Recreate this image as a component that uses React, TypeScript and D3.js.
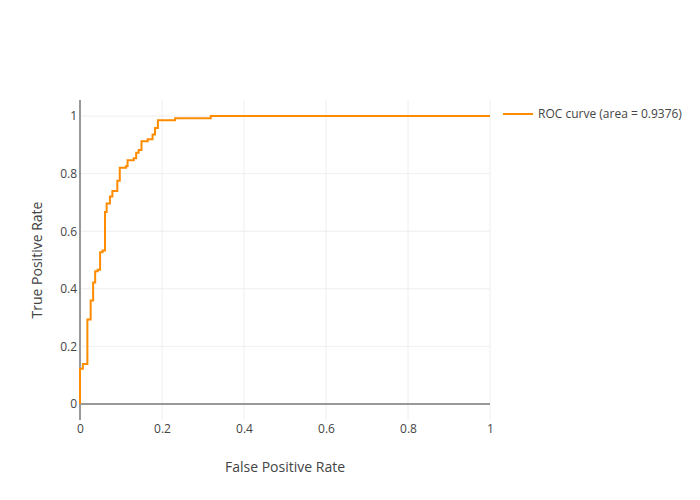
import React, { useEffect, useRef } from 'react';
import * as d3 from 'd3';

const width = 700;
const height = 500;
const margin = { top: 100, right: 210, bottom: 80, left: 80 };

// ROC corners: fpr where each vertical jump happens, tpr reached after it
const fpr = [0, 0, 0.007, 0.018, 0.026, 0.032, 0.037, 0.043, 0.049, 0.055, 0.061, 0.065, 0.073, 0.079,
  0.091, 0.097, 0.112, 0.116, 0.131, 0.137, 0.143, 0.150, 0.165, 0.177, 0.183, 0.190, 0.232, 0.319, 1];
const tpr = [0, 0.122, 0.139, 0.293, 0.359, 0.422, 0.461, 0.466, 0.527, 0.533, 0.667, 0.696, 0.721, 0.740,
  0.775, 0.821, 0.826, 0.847, 0.854, 0.873, 0.882, 0.913, 0.920, 0.936, 0.959, 0.986, 0.993, 1, 1];

const xTicks = [0, 0.2, 0.4, 0.6, 0.8, 1];
const yTicks = [0, 0.2, 0.4, 0.6, 0.8, 1];
const tickLabels = ['0', '0.2', '0.4', '0.6', '0.8', '1'];

const seriesName = 'ROC curve (area = 0.9376)';
const xTitle = 'False Positive Rate';
const yTitle = 'True Positive Rate';

const font = '"Open Sans", verdana, arial, sans-serif';

const App = () => {
  const svgRef = useRef<SVGSVGElement>(null);

  useEffect(() => {
    const svg = d3.select(svgRef.current);
    svg.selectAll('*').remove();

    const x0 = margin.left;
    const x1 = width - margin.right;
    const y0 = height - margin.bottom;
    const y1 = margin.top;

    const xScale = d3.scaleLinear().domain([0, 1]).range([x0, x1]);
    const yScale = d3.scaleLinear().domain([-0.056, 1.056]).range([y0, y1]);

    svg.append('rect').attr('width', width).attr('height', height).attr('fill', '#fff');

    // grid
    svg.append('g')
      .selectAll('line')
      .data(xTicks.filter(d => d !== 0))
      .join('line')
      .attr('x1', d => xScale(d)).attr('x2', d => xScale(d))
      .attr('y1', y1).attr('y2', y0)
      .attr('stroke', '#eee').attr('stroke-width', 1);

    svg.append('g')
      .selectAll('line')
      .data(yTicks.filter(d => d !== 0))
      .join('line')
      .attr('x1', x0).attr('x2', x1)
      .attr('y1', d => yScale(d)).attr('y2', d => yScale(d))
      .attr('stroke', '#eee').attr('stroke-width', 1);

    // zero lines
    svg.append('line')
      .attr('x1', x0).attr('x2', x1)
      .attr('y1', yScale(0)).attr('y2', yScale(0))
      .attr('stroke', '#999').attr('stroke-width', 2);
    svg.append('line')
      .attr('x1', xScale(0)).attr('x2', xScale(0))
      .attr('y1', y1).attr('y2', y0)
      .attr('stroke', '#999').attr('stroke-width', 2);

    // axes
    const xAxis = svg.append('g')
      .attr('transform', `translate(0,${y0})`)
      .call(d3.axisBottom(xScale).tickValues(xTicks).tickSize(0).tickPadding(4)
        .tickFormat((d, i) => tickLabels[i]));
    const yAxis = svg.append('g')
      .attr('transform', `translate(${x0},0)`)
      .call(d3.axisLeft(yScale).tickValues(yTicks).tickSize(0).tickPadding(3)
        .tickFormat((d, i) => tickLabels[i]));
    [xAxis, yAxis].forEach(g => {
      g.select('.domain').remove();
      g.selectAll('text').attr('fill', '#444').style('font-family', font).style('font-size', '12px');
    });

    // curve
    const points = fpr.map((f, i) => [f, tpr[i]] as [number, number]);
    const line = d3.line<[number, number]>()
      .x(d => xScale(d[0]))
      .y(d => yScale(d[1]))
      .curve(d3.curveStepAfter);
    svg.append('path')
      .datum(points)
      .attr('d', line)
      .attr('fill', 'none')
      .attr('stroke', 'darkorange')
      .attr('stroke-width', 2);

    // axis titles
    svg.append('text')
      .attr('x', (x0 + x1) / 2).attr('y', 472)
      .attr('text-anchor', 'middle')
      .attr('fill', '#444')
      .style('font-family', font).style('font-size', '14px')
      .text(xTitle);
    svg.append('text')
      .attr('transform', `translate(42,${(y0 + y1) / 2}) rotate(-90)`)
      .attr('text-anchor', 'middle')
      .attr('fill', '#444')
      .style('font-family', font).style('font-size', '14px')
      .text(yTitle);

    // legend
    const legend = svg.append('g').attr('transform', 'translate(503,114)');
    legend.append('line')
      .attr('x1', 0).attr('x2', 30).attr('y1', 0).attr('y2', 0)
      .attr('stroke', 'darkorange').attr('stroke-width', 2);
    legend.append('text')
      .attr('x', 35).attr('y', 0).attr('dy', '0.35em')
      .attr('fill', '#444')
      .style('font-family', font).style('font-size', '12px')
      .text(seriesName);
  }, []);

  return (
    <div style={{ position: 'absolute', left: 0, top: 0 }}>
      <svg ref={svgRef} width={width} height={height} style={{ display: 'block' }}></svg>
    </div>
  );
};

export default App;
